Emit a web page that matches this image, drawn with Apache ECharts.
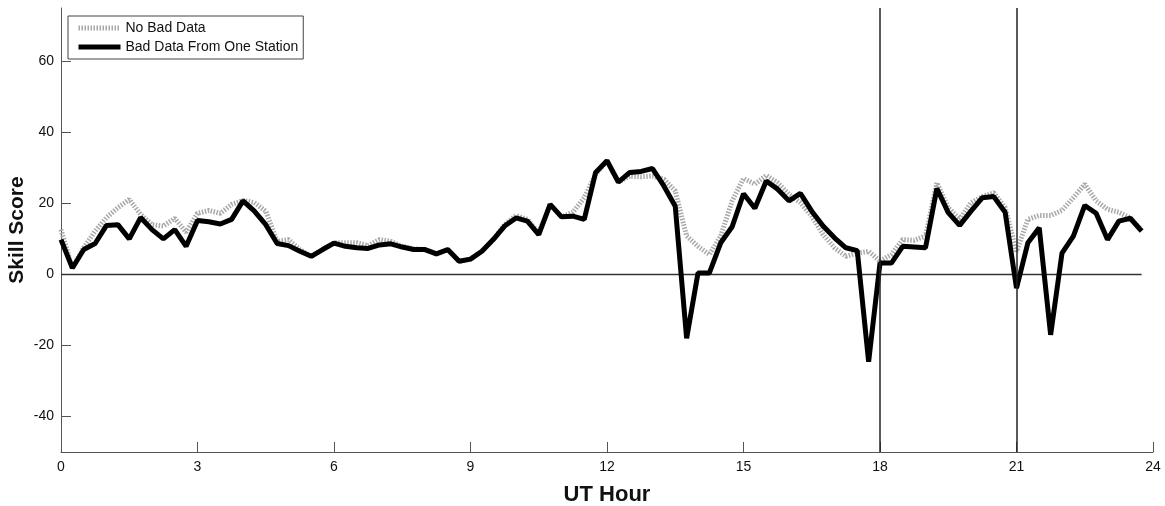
<!DOCTYPE html>
<html>
<head>
<meta charset="utf-8">
<script src="https://cdn.jsdelivr.net/npm/echarts@6/dist/echarts.min.js"></script>
<style>
  html, body { margin: 0; padding: 0; background: #fff; }
  #chart { width: 1165px; height: 506px; }
</style>
</head>
<body>
<div id="chart"></div>
<script>
// UT hour, 15 minute steps
const hours = [];
for (let i = 0; i < 96; i++) hours.push(i * 0.25);

const noBadData = [
  12.6, 1.8, 7.5, 12.2, 16, 18.8, 21.1, 16.9, 14, 13.6, 15.8, 11.9, 17.2, 18, 17.2, 19.7,
  20.8, 20.2, 17.8, 9.3, 9.8, 7, 5.1, 7, 8.9, 8.9, 8.9, 8.1, 9.8, 9.3, 7.9, 7.2,
  7, 5.8, 7, 3.7, 4.3, 6.5, 9.8, 14, 16.6, 15.5, 11.7, 19.7, 16.2, 17.5, 21.6, 28.2,
  32, 26, 27.7, 27.5, 27.7, 26.8, 23.5, 10.8, 7.9, 5.6, 10.8, 20.7, 27, 25.4, 27.9, 25.8,
  22.5, 20.2, 16.4, 11.2, 7.5, 5.1, 6, 6.5, 3.7, 5.6, 9.8, 9.6, 10.8, 25.8, 18.8, 15.5,
  20.2, 21.9, 23, 18.8, 6.5, 15.5, 16.6, 16.6, 18, 21.6, 25.4, 20.7, 18.3, 17.5, 15.9, 12.5
];

const badOneStation = [
  9.8, 1.8, 7, 8.7, 13.8, 14, 10, 16, 12.6, 10, 12.6, 7.9, 15.2, 14.8, 14.2, 15.5,
  20.7, 17.8, 14, 8.7, 8.1, 6.5, 5.1, 7, 8.8, 7.9, 7.5, 7.3, 8.3, 8.6, 7.7, 7,
  7, 5.8, 7, 3.7, 4.3, 6.5, 9.8, 13.6, 15.9, 15, 11.2, 19.7, 16.2, 16.4, 15.5, 28.7,
  32, 26, 28.7, 29, 29.8, 24.9, 19.2, -18, 0.4, 0.4, 8.9, 13.4, 22.7, 18.6, 26.3, 24,
  20.7, 22.8, 17.8, 13.6, 10.3, 7.5, 6.7, -24.6, 3.2, 3.2, 7.9, 7.7, 7.5, 24.2, 17.4, 13.8,
  17.8, 21.6, 21.9, 17.5, -3.9, 8.9, 13.1, -17, 6, 10.8, 19.4, 17.2, 9.8, 15, 15.8, 12.2
];

const yTicks = [-40, -20, 0, 20, 40, 60];
const markHours = [18, 21];

(function () {
  let myChart = echarts.init(document.getElementById('chart'))
  const font = '"Liberation Sans", Arial, Helvetica, sans-serif'
  const grayStyle = { color: '#a8a8a8', width: 5, type: [1.5, 1.5] }
  const blackStyle = { color: '#000', width: 5 }

  let option = {
    animation: false,
    textStyle: { fontFamily: font },
    grid: { left: 61, right: 12, top: 8, bottom: 54, outerBoundsMode: 'none' },
    legend: {
      data: [
        { name: 'No Bad Data', lineStyle: grayStyle, itemStyle: { opacity: 0 } },
        { name: 'Bad Data From One Station', lineStyle: blackStyle, itemStyle: { opacity: 0 } }
      ],
      orient: 'vertical',
      left: 68,
      top: 16,
      borderColor: '#444',
      borderWidth: 1,
      padding: [5, 5, 5, 8],
      itemGap: 5,
      itemWidth: 42,
      itemHeight: 15,
      backgroundColor: '#fff',
      textStyle: { fontSize: 14, color: '#111', fontFamily: font }
    },
    xAxis: {
      type: 'value',
      min: 0,
      max: 24,
      interval: 3,
      name: 'UT Hour',
      nameLocation: 'middle',
      nameGap: 32,
      nameTextStyle: { fontSize: 22, fontWeight: 'bold', color: '#111' },
      axisLine: { onZero: false, lineStyle: { color: '#555', width: 1 } },
      axisTick: { inside: true, length: 10, lineStyle: { color: '#555' } },
      axisLabel: { fontSize: 14, color: '#111', margin: 8 },
      splitLine: { show: false }
    },
    yAxis: {
      type: 'value',
      min: -50,
      max: 75,
      name: 'Skill Score',
      nameLocation: 'middle',
      nameGap: 33,
      nameMoveOverlap: false,
      nameTextStyle: { fontSize: 21, fontWeight: 'bold', color: '#111' },
      axisLine: { show: true, onZero: false, lineStyle: { color: '#555', width: 1 } },
      axisTick: { show: true, inside: true, length: 10, customValues: yTicks, lineStyle: { color: '#555' } },
      axisLabel: { fontSize: 14, color: '#111', margin: 7, customValues: yTicks },
      splitLine: { show: false }
    },
    series: [
      // 零线 + 18、21 时竖线
      {
        name: 'zero',
        type: 'line',
        silent: true,
        symbol: 'none',
        z: 1,
        lineStyle: { color: '#333', width: 1.5 },
        data: [[0, 0], [23.75, 0]],
        markLine: {
          silent: true,
          symbol: 'none',
          label: { show: false },
          lineStyle: { color: '#222', width: 1.5, type: 'solid' },
          data: markHours.map(h => ({ xAxis: h }))
        }
      },
      {
        name: 'No Bad Data',
        type: 'line',
        symbol: 'none',
        z: 2,
        lineStyle: grayStyle,
        itemStyle: { color: '#a8a8a8' },
        data: hours.map((h, i) => [h, noBadData[i]])
      },
      {
        name: 'Bad Data From One Station',
        type: 'line',
        symbol: 'none',
        z: 3,
        lineStyle: blackStyle,
        itemStyle: { color: '#000' },
        data: hours.map((h, i) => [h, badOneStation[i]])
      }
    ]
  };

  myChart.setOption(option)
})();
</script>
</body>
</html>
